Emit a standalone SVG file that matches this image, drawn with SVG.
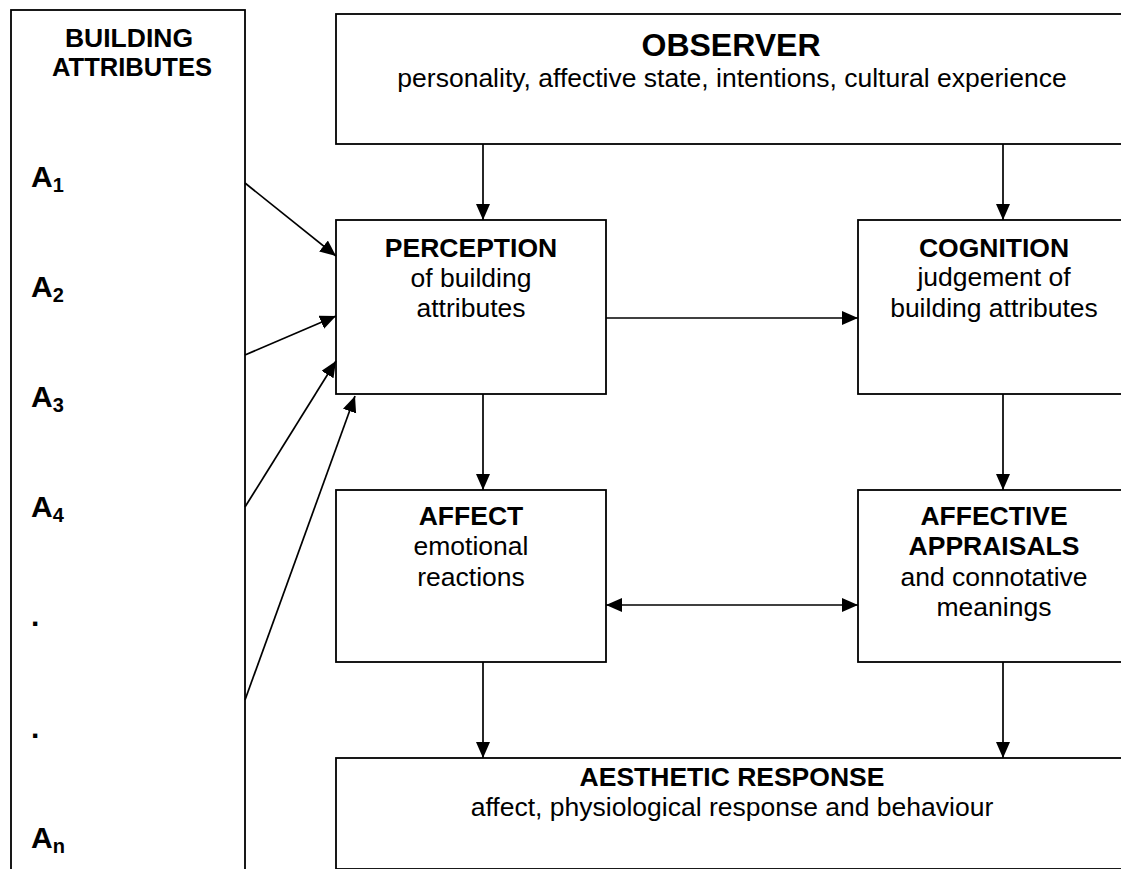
<svg xmlns="http://www.w3.org/2000/svg" width="1121" height="869" viewBox="0 0 1121 869">
<style>
  .box { fill: #fff; stroke: #000; stroke-width: 1.8; }
  .ln { stroke: #000; stroke-width: 1.7; fill: none; }
  .arr { marker-end: url(#ah); }
  text { font-family: "Liberation Sans", Arial, sans-serif; fill: #000; text-anchor: middle; font-size: 26.5px; }
  .b { font-weight: bold; }
  .obs { font-size: 32px; font-weight: bold; }
  .al { font-size: 30px; font-weight: bold; text-anchor: start; }
  .sub { font-size: 20px; }
</style>
<defs>
  <marker id="ah" markerUnits="userSpaceOnUse" markerWidth="17" markerHeight="15" refX="16" refY="7" orient="auto-start-reverse">
    <path d="M0,0 L16,7 L0,14 z" fill="#000"/>
  </marker>
</defs>
<rect width="1121" height="869" fill="#fff"/>

<g id="attributes">
  <rect class="box" x="11" y="10" width="234" height="880"/>
  <text class="b" x="129" y="47">BUILDING</text>
  <text class="b" x="132" y="76" textLength="160" lengthAdjust="spacingAndGlyphs">ATTRIBUTES</text>
  <text class="al" x="31" y="187">A<tspan class="sub" dy="5">1</tspan></text>
  <text class="al" x="31" y="297">A<tspan class="sub" dy="5">2</tspan></text>
  <text class="al" x="31" y="407">A<tspan class="sub" dy="5">3</tspan></text>
  <text class="al" x="31" y="517">A<tspan class="sub" dy="5">4</tspan></text>
  <text class="al" x="31" y="626">.</text>
  <text class="al" x="31" y="738">.</text>
  <text class="al" x="31" y="848">A<tspan class="sub" dy="5">n</tspan></text>
</g>

<g id="observer">
  <rect class="box" x="336" y="14" width="820" height="130"/>
  <text class="obs" x="731" y="56">OBSERVER</text>
  <text x="732" y="87">personality, affective state, intentions, cultural experience</text>
</g>

<g id="perception">
  <rect class="box" x="336" y="220" width="270" height="174"/>
  <text class="b" x="471" y="257">PERCEPTION</text>
  <text x="471" y="287">of building</text>
  <text x="471" y="317">attributes</text>
</g>

<g id="cognition">
  <rect class="box" x="858" y="220" width="272" height="174"/>
  <text class="b" x="994" y="257">COGNITION</text>
  <text x="994" y="286">judgement of</text>
  <text x="994" y="317">building attributes</text>
</g>

<g id="affect">
  <rect class="box" x="336" y="490" width="270" height="172"/>
  <text class="b" x="471" y="525">AFFECT</text>
  <text x="471" y="555">emotional</text>
  <text x="471" y="586">reactions</text>
</g>

<g id="appraisals">
  <rect class="box" x="858" y="490" width="272" height="172"/>
  <text class="b" x="994" y="525">AFFECTIVE</text>
  <text class="b" x="994" y="555">APPRAISALS</text>
  <text x="994" y="586">and connotative</text>
  <text x="994" y="616">meanings</text>
</g>

<g id="aesthetic">
  <rect class="box" x="336" y="758" width="820" height="111"/>
  <text class="b" x="732" y="786">AESTHETIC RESPONSE</text>
  <text x="732" y="816">affect, physiological response and behaviour</text>
</g>

<g id="connectors">
  <line class="ln arr" x1="483" y1="144" x2="483" y2="220"/>
  <line class="ln arr" x1="1003" y1="144" x2="1003" y2="220"/>
  <line class="ln arr" x1="606" y1="318" x2="858" y2="318"/>
  <line class="ln arr" x1="483" y1="394" x2="483" y2="490"/>
  <line class="ln arr" x1="1003" y1="394" x2="1003" y2="490"/>
  <line class="ln arr" x1="606" y1="605" x2="858" y2="605" marker-start="url(#ah)"/>
  <line class="ln arr" x1="483" y1="662" x2="483" y2="758"/>
  <line class="ln arr" x1="1003" y1="662" x2="1003" y2="758"/>
  <line class="ln arr" x1="245" y1="183" x2="336" y2="256"/>
  <line class="ln arr" x1="245" y1="355" x2="336" y2="316"/>
  <line class="ln arr" x1="245" y1="507" x2="336" y2="361"/>
  <line class="ln arr" x1="245" y1="700" x2="355" y2="396"/>
</g>
</svg>
